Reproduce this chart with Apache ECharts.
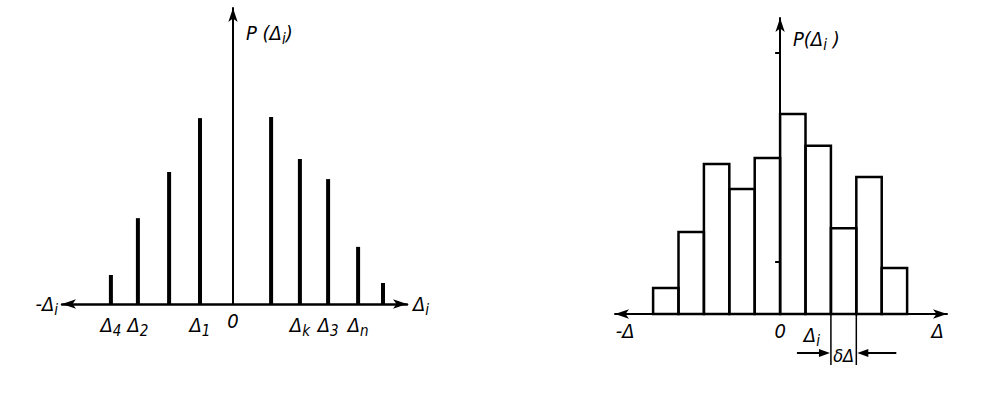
<!DOCTYPE html>
<html><head><meta charset="utf-8">
<script src="https://cdn.jsdelivr.net/npm/echarts@6/dist/echarts.min.js"></script>
<style>html,body{margin:0;padding:0;background:#fff}#c{width:993px;height:400px}</style>
</head><body><div id="c"></div>
<script>
// Left panel: discrete distribution of errors
const discreteX = [-4.07, -3.17, -2.13, -1.1, 1.27, 2.23, 3.17, 4.17, 5.0];
const discreteP = [0.098, 0.29, 0.446, 0.628, 0.632, 0.49, 0.422, 0.193, 0.071];
const discreteTickValues = [-4.07, -3.17, -1.1, 0, 2.23, 3.17, 4.17];
const discreteTickLabels = ['Δ|4', 'Δ|2', 'Δ|1', '0', 'Δ|k', 'Δ|3', 'Δ|n'];
// Right panel: histogram, bins in units of δΔ
const binStart = [-5, -4, -3, -2, -1, 0, 1, 2, 3, 4];
const binP = [0.088, 0.277, 0.507, 0.422, 0.527, 0.676, 0.568, 0.29, 0.463, 0.155];
const binWidth = 1;
const histTickValues = [-6.1, 0, 1.25, 6.2];
const histTickLabels = ['-Δ', '0', 'Δ|i', 'Δ'];
const histYTicks = [0.176, 0.882];
const deltaBin = [2, 3];

const FONT = '"DejaVu Sans Condensed", "DejaVu Sans", sans-serif';
const rich = {
  m: {fontFamily: FONT, fontStyle: 'italic', fontSize: 20, color: '#000'},
  s: {fontFamily: FONT, fontStyle: 'italic', fontSize: 15, color: '#000', padding: [12, 0, 0, 0]}
};
function fmt(s) {
  if (s.indexOf('|') >= 0) { const p = s.split('|'); return '{m|' + p[0] + '}{s|' + p[1] + '}'; }
  return '{m|' + s + '}';
}
function lookup(vals, labels, v) {
  let bi = 0, bd = Infinity;
  vals.forEach((x, i) => { const d = Math.abs(x - v); if (d < bd) { bd = d; bi = i; } });
  return fmt(labels[bi]);
}
const axisLineStyle = {color: '#000', width: 2.5};

const chart = echarts.init(document.getElementById('c'), null, {renderer: 'svg'});
chart.setOption({
  animation: false,
  backgroundColor: '#fff',
  grid: [
    {left: 62, top: 8, width: 345, height: 296},
    {left: 615, top: 18, width: 332, height: 296}
  ],
  xAxis: [
    {gridIndex: 0, type: 'value', min: -5.7, max: 5.8,
     axisLine: {onZero: true, symbol: ['arrow', 'arrow'], symbolSize: [7, 14], lineStyle: axisLineStyle},
     axisTick: {show: false}, splitLine: {show: false},
     axisLabel: {customValues: discreteTickValues, formatter: v => lookup(discreteTickValues, discreteTickLabels, v), rich: rich, margin: 7},
     name: '{m|Δ}{s|i}', nameLocation: 'end', nameGap: 6, nameTextStyle: {rich: rich}},
    {gridIndex: 1, type: 'value', min: -6.5, max: 6.57,
     axisLine: {onZero: true, symbol: ['arrow', 'arrow'], symbolSize: [7, 14], lineStyle: {color: '#000', width: 2}},
     axisTick: {show: false}, splitLine: {show: false},
     axisLabel: {customValues: histTickValues, formatter: v => lookup(histTickValues, histTickLabels, v), rich: rich, margin: 7}}
  ],
  yAxis: [
    {gridIndex: 0, type: 'value', min: 0, max: 1,
     axisLine: {show: true, onZero: true, symbol: ['none', 'arrow'], symbolSize: [7, 14], lineStyle: {color: '#000', width: 2}},
     axisTick: {show: false}, axisLabel: {show: false}, splitLine: {show: false}},
    {gridIndex: 1, type: 'value', min: 0, max: 1,
     axisLine: {show: true, onZero: true, symbol: ['none', 'arrow'], symbolSize: [7, 14], lineStyle: {color: '#000', width: 2}},
     axisTick: {show: true, customValues: histYTicks, length: 5, lineStyle: {color: '#000', width: 2}},
     axisLabel: {show: false}, splitLine: {show: false}}
  ],
  series: [
    {type: 'bar', xAxisIndex: 0, yAxisIndex: 0, silent: true, barWidth: 4,
     itemStyle: {color: '#000'},
     data: discreteX.map((x, i) => [x, discreteP[i]])},
    {type: 'custom', xAxisIndex: 1, yAxisIndex: 1, silent: true,
     encode: {x: 0, y: 1},
     data: binStart.map((x, i) => [x, binP[i]]),
     renderItem: function (params, api) {
       const x0 = api.value(0), y = api.value(1);
       const p0 = api.coord([x0, y]);
       const p1 = api.coord([x0 + binWidth, 0]);
       return {type: 'rect', shape: {x: p0[0], y: p0[1], width: p1[0] - p0[0], height: p1[1] - p0[1]},
               style: {fill: 'none', stroke: '#000', lineWidth: 2.5}};
     }},
    {type: 'custom', xAxisIndex: 1, yAxisIndex: 1, silent: true, clip: false,
     encode: {x: [0, 1]},
     data: [deltaBin],
     renderItem: function (params, api) {
       const a = api.coord([api.value(0), 0]);
       const b = api.coord([api.value(1), 0]);
       const ay = a[1] + 39;
       return {type: 'group', children: [
         {type: 'line', shape: {x1: a[0], y1: a[1], x2: a[0], y2: a[1] + 51}, style: {stroke: '#000', lineWidth: 1.5}},
         {type: 'line', shape: {x1: b[0], y1: b[1], x2: b[0], y2: b[1] + 51}, style: {stroke: '#000', lineWidth: 1.5}},
         {type: 'line', shape: {x1: a[0] - 34, y1: ay, x2: a[0] - 8, y2: ay}, style: {stroke: '#000', lineWidth: 2}},
         {type: 'polygon', shape: {points: [[a[0] - 1, ay], [a[0] - 12, ay - 4], [a[0] - 12, ay + 4]]}, style: {fill: '#000'}},
         {type: 'line', shape: {x1: b[0] + 40, y1: ay, x2: b[0] + 8, y2: ay}, style: {stroke: '#000', lineWidth: 2}},
         {type: 'polygon', shape: {points: [[b[0] + 1, ay], [b[0] + 12, ay - 4], [b[0] + 12, ay + 4]]}, style: {fill: '#000'}},
         {type: 'text', x: (a[0] + b[0]) / 2, y: ay + 2,
          style: {text: 'δΔ', fontFamily: FONT, fontStyle: 'italic', fontSize: 18, fill: '#000', align: 'center', verticalAlign: 'middle'}}
       ]};
     }}
  ],
  graphic: [
    {type: 'text', x: 58, y: 304, style: {text: '{m|-Δ}{s|i}', rich: rich, align: 'right', verticalAlign: 'middle'}},
    {type: 'text', x: 246, y: 33, style: {text: '{m|P (Δ}{s|i}{m|)}', rich: rich, align: 'left', verticalAlign: 'middle'}},
    {type: 'text', x: 793, y: 39, style: {text: '{m|P(Δ}{s|i}{m| )}', rich: rich, align: 'left', verticalAlign: 'middle'}}
  ]
});
</script></body></html>
